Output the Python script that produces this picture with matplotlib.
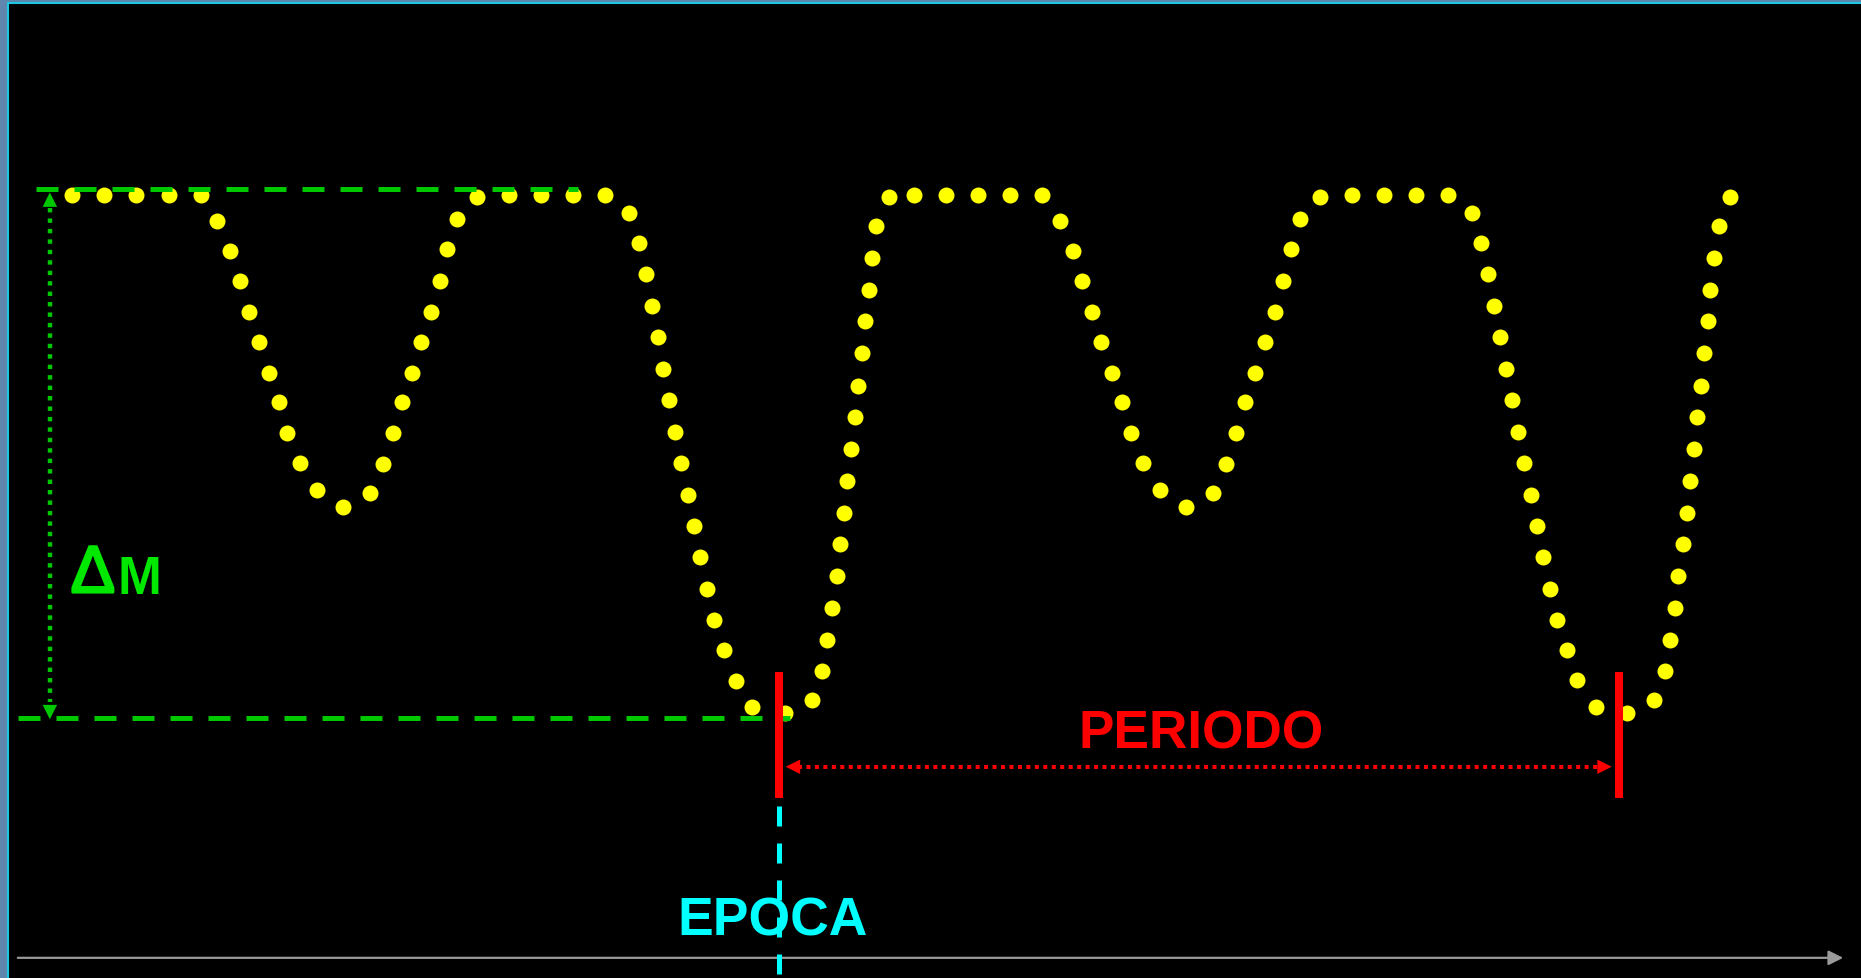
"""Eclipsing binary light curve schematic: delta M, period and epoch."""
import matplotlib
matplotlib.use("Agg")
import matplotlib.pyplot as plt
import matplotlib.patheffects as pe
from matplotlib.patches import Rectangle

# light curve samples (time, magnitude) in arbitrary units, mag grows downward
t = [61, 88, 115, 142, 169, 183, 194, 202, 210, 218, 227, 235, 242, 253, 267,
     289, 312, 323, 331, 339, 347, 355, 363, 371, 377, 385, 402, 429, 456, 483,
     510, 530, 538, 544, 549, 554, 559, 564, 569, 574, 580, 585, 590, 596, 602,
     610, 620, 634, 661, 684, 693, 697, 701, 705, 708, 711, 714, 717, 720, 723,
     726, 729, 732, 735, 738, 749, 770, 797, 824, 851, 878, 893, 904, 912, 920,
     928, 937, 945, 953, 963, 977, 999, 1022, 1033, 1041, 1049, 1057, 1066, 1074,
     1081, 1088, 1095, 1112, 1139, 1166, 1193, 1220, 1240, 1248, 1254, 1259, 1264,
     1269, 1274, 1279, 1284, 1290, 1295, 1300, 1306, 1312, 1320, 1329, 1345, 1371,
     1394, 1403, 1407, 1411, 1414, 1418, 1421, 1424, 1427, 1430, 1433, 1436, 1439,
     1441, 1444, 1448, 1458]
mag = [165, 165, 165, 165, 165, 187, 212, 238, 264, 289, 315, 340, 366, 391, 414,
       428, 416, 392, 366, 340, 315, 289, 264, 238, 211, 185, 167, 165, 165, 165,
       165, 180, 206, 232, 259, 285, 312, 338, 365, 391, 418, 444, 470, 497, 523,
       549, 575, 597, 602, 591, 566, 540, 513, 486, 459, 433, 406, 379, 352, 326,
       298, 271, 245, 218, 191, 167, 165, 165, 165, 165, 165, 187, 212, 238, 264,
       289, 315, 340, 366, 391, 414, 428, 416, 392, 366, 340, 315, 289, 264, 238,
       211, 185, 167, 165, 165, 165, 165, 180, 206, 232, 259, 285, 312, 338, 365,
       391, 418, 444, 470, 497, 523, 549, 574, 597, 602, 591, 566, 540, 513, 486,
       459, 433, 406, 379, 352, 326, 298, 271, 245, 218, 191, 167]

MAX_LEVEL = 160     # bright level (dashed line)
MIN_LEVEL = 606     # primary minimum level
EPOCH = 656
PERIOD = 708

W, H = 1568, 825
GREEN = "#00c800"
LIME = "#00e800"
RED = "#ff0000"
CYAN = "#00ffff"
FONT = "Liberation Sans"

fig = plt.figure(figsize=(18.61, 9.79), dpi=100, facecolor="#5f86ad")
ax = fig.add_axes([0, 0, 1, 1])
ax.set_xlim(0, W)
ax.set_ylim(H, 0)
ax.axis("off")

ax.add_patch(Rectangle((7, 3), W, H, facecolor="black", edgecolor="none", zorder=0))
ax.plot([7, 7], [3, H], color="#1fc8e0", lw=1.5, zorder=1)
ax.plot([7, W], [3, 3], color="#1fc8e0", lw=1.5, zorder=1)


def head(tip, back, color, ms):
    ax.annotate("", xy=tip, xytext=back,
                arrowprops=dict(arrowstyle="-|>", color=color, lw=0,
                                mutation_scale=ms, shrinkA=0, shrinkB=0), zorder=3)


# delta M guide lines
dash = (0, (4.4, 3.2))
ax.plot([30, 487], [MAX_LEVEL, MAX_LEVEL], color=GREEN, lw=3.6, ls=dash, zorder=3)
ax.plot([15, 666], [MIN_LEVEL, MIN_LEVEL], color=GREEN, lw=3.6, ls=dash, zorder=3)
ax.plot([42, 42], [MAX_LEVEL + 16, MIN_LEVEL - 14], color=GREEN, lw=3.2,
        ls=(0, (1, 1.35)), zorder=3)
head((42, MAX_LEVEL + 3), (42, MAX_LEVEL + 20), GREEN, 26)
head((42, MIN_LEVEL + 1), (42, MIN_LEVEL - 16), GREEN, 26)
ax.text(59.5, 500, "\u0394", color=LIME, fontsize=48, family=FONT,
        va="baseline", ha="left",
        path_effects=[pe.withStroke(linewidth=1.8, foreground=LIME)])
ax.text(99, 500.5, "M", color=LIME, fontsize=38, fontweight="bold", family=FONT,
        va="baseline", ha="left")

# light curve
ax.plot(t, mag, "o", color="#ffff00", ms=11.5, mec="none", zorder=2)

# period markers
for x0 in (EPOCH, EPOCH + PERIOD):
    ax.plot([x0, x0], [567, 673], color=RED, lw=5.8, solid_capstyle="butt", zorder=4)
ax.plot([EPOCH + 16, EPOCH + PERIOD - 16], [647, 647], color=RED, lw=2.9,
        ls=(0, (1, 1.1)), zorder=3)
head((EPOCH + 6, 647), (EPOCH + 24, 647), RED, 26)
head((EPOCH + PERIOD - 6, 647), (EPOCH + PERIOD - 24, 647), RED, 26)
ax.text(1012, 631, "PERIODO", color=RED, fontsize=38.3, fontweight="bold",
        family=FONT, va="baseline", ha="center")

# epoch
ax.plot([EPOCH, EPOCH], [680, H], color=CYAN, lw=3.6, ls=(0, (4.0, 3.4)), zorder=5)
ax.text(651, 788.6, "EPOCA", color=CYAN, fontsize=38.5, fontweight="bold",
        family=FONT, va="baseline", ha="center", zorder=4)

# time axis
ax.annotate("", xy=(1553, 808), xytext=(15, 808),
            arrowprops=dict(arrowstyle="-|>", color="#999999", lw=1.6,
                            mutation_scale=22, shrinkA=0, shrinkB=0), zorder=3)

fig.savefig("out.png", dpi=100, facecolor=fig.get_facecolor())
